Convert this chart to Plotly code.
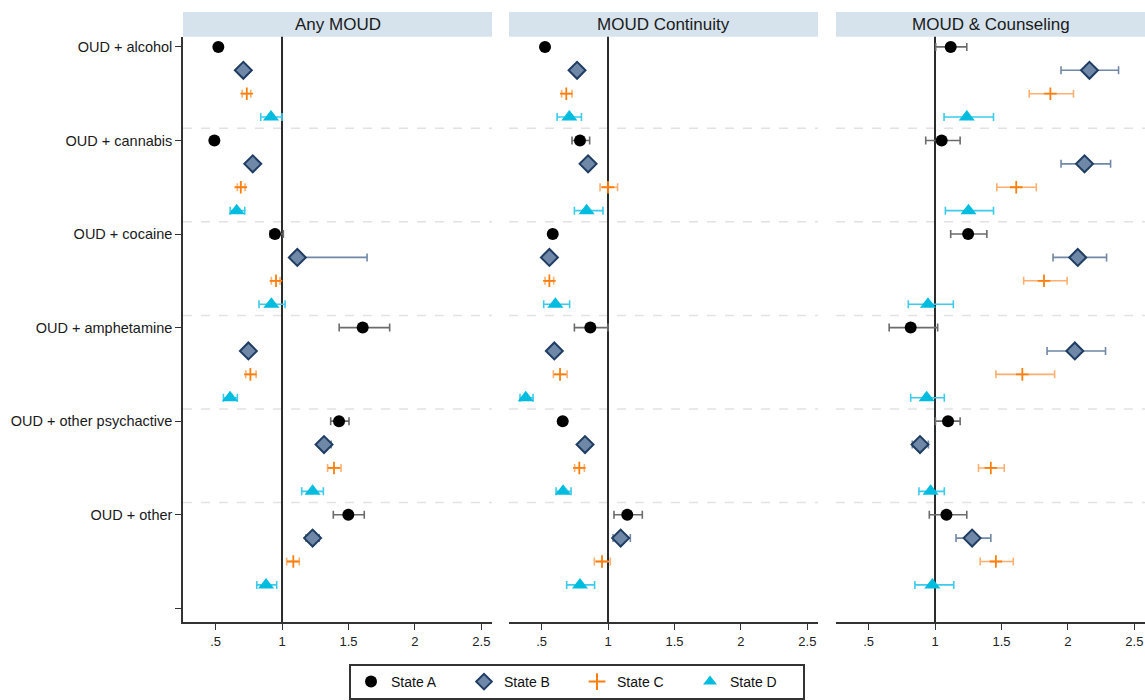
import plotly.graph_objects as go

categories = ["OUD + alcohol", "OUD + cannabis", "OUD + cocaine",
              "OUD + amphetamine", "OUD + other psychactive", "OUD + other"]
states = ["State A", "State B", "State C", "State D"]
panels = ["Any MOUD", "MOUD Continuity", "MOUD & Counseling"]

# ---- Any MOUD (estimate, lower CI, upper CI), one value per category ----
any_A_est = [0.521, 0.491, 0.947, 1.607, 1.429, 1.499]
any_A_lo  = [0.505, 0.475, 0.910, 1.430, 1.366, 1.386]
any_A_hi  = [0.537, 0.507, 1.010, 1.810, 1.504, 1.619]
any_B_est = [0.709, 0.780, 1.115, 0.747, 1.316, 1.230]
any_B_lo  = [0.690, 0.762, 1.080, 0.730, 1.280, 1.180]
any_B_hi  = [0.728, 0.798, 1.640, 0.764, 1.370, 1.280]
any_C_est = [0.735, 0.690, 0.955, 0.762, 1.391, 1.085]
any_C_lo  = [0.700, 0.664, 0.920, 0.727, 1.343, 1.035]
any_C_hi  = [0.765, 0.722, 0.985, 0.805, 1.444, 1.130]
any_D_est = [0.917, 0.659, 0.920, 0.609, 1.230, 0.880]
any_D_lo  = [0.840, 0.610, 0.827, 0.559, 1.148, 0.810]
any_D_hi  = [1.000, 0.720, 1.023, 0.664, 1.311, 0.960]

# ---- MOUD Continuity ----
con_A_est = [0.526, 0.789, 0.584, 0.867, 0.659, 1.145]
con_A_lo  = [0.510, 0.729, 0.565, 0.747, 0.635, 1.045]
con_A_hi  = [0.542, 0.862, 0.603, 1.000, 0.683, 1.258]
con_B_est = [0.767, 0.850, 0.559, 0.596, 0.827, 1.095]
con_B_lo  = [0.748, 0.822, 0.542, 0.578, 0.800, 1.038]
con_B_hi  = [0.788, 0.880, 0.576, 0.614, 0.857, 1.168]
con_C_est = [0.686, 1.000, 0.559, 0.639, 0.784, 0.955]
con_C_lo  = [0.651, 0.940, 0.526, 0.589, 0.749, 0.897]
con_C_hi  = [0.729, 1.072, 0.591, 0.692, 0.822, 1.017]
con_D_est = [0.709, 0.839, 0.604, 0.381, 0.662, 0.789]
con_D_lo  = [0.617, 0.747, 0.516, 0.338, 0.609, 0.689]
con_D_hi  = [0.800, 0.962, 0.711, 0.436, 0.722, 0.899]

# ---- MOUD & Counseling ----
cou_A_est = [1.118, 1.050, 1.249, 0.817, 1.098, 1.086]
cou_A_lo  = [1.005, 0.930, 1.118, 0.655, 1.003, 0.957]
cou_A_hi  = [1.239, 1.189, 1.390, 1.020, 1.189, 1.239]
cou_B_est = [2.162, 2.125, 2.074, 2.052, 0.887, 1.279]
cou_B_lo  = [1.948, 1.948, 1.888, 1.843, 0.829, 1.158]
cou_B_hi  = [2.381, 2.321, 2.291, 2.283, 0.950, 1.420]
cou_C_est = [1.868, 1.611, 1.820, 1.657, 1.420, 1.458]
cou_C_lo  = [1.709, 1.465, 1.667, 1.458, 1.327, 1.340]
cou_C_hi  = [2.042, 1.762, 1.994, 1.900, 1.521, 1.589]
cou_D_est = [1.239, 1.252, 0.947, 0.937, 0.967, 0.980]
cou_D_lo  = [1.068, 1.078, 0.799, 0.817, 0.879, 0.849]
cou_D_hi  = [1.440, 1.440, 1.138, 1.070, 1.070, 1.141]

x_tickvals = [0.5, 1, 1.5, 2, 2.5]
x_ticktext = [".5", "1", "1.5", "2", "2.5"]

panel_data = [
    [(any_A_est, any_A_lo, any_A_hi), (any_B_est, any_B_lo, any_B_hi),
     (any_C_est, any_C_lo, any_C_hi), (any_D_est, any_D_lo, any_D_hi)],
    [(con_A_est, con_A_lo, con_A_hi), (con_B_est, con_B_lo, con_B_hi),
     (con_C_est, con_C_lo, con_C_hi), (con_D_est, con_D_lo, con_D_hi)],
    [(cou_A_est, cou_A_lo, cou_A_hi), (cou_B_est, cou_B_lo, cou_B_hi),
     (cou_C_est, cou_C_lo, cou_C_hi), (cou_D_est, cou_D_lo, cou_D_hi)],
]

styles = [
    dict(symbol="circle", size=12, color="black", line=dict(width=0, color="black")),
    dict(symbol="diamond", size=13, color="#6f88a8", line=dict(width=2, color="#1f3d63")),
    dict(symbol="cross-thin", size=9, color="#ff7f0e", line=dict(width=1.8, color="#ff7f0e")),
    dict(symbol="triangle-up", size=14, color="#00bcdf", line=dict(width=0, color="#00bcdf")),
]
err_colors = ["#6b6b6b", "#7088a6", "#ffb070", "#3ccbec"]

W, H = 1145, 700
x_domains = [(183 / W, 492 / W), (509 / W, 818 / W), (836 / W, 1.0)]
y_domain = (1 - 625 / H, 1 - 37 / H)
x_range = [0.255, 2.58]
y_range = [24.6, -0.43]

fig = go.Figure()
for p in range(3):
    ax = "" if p == 0 else str(p + 1)
    for s in range(4):
        est, lo, hi = panel_data[p][s]
        ys = [c * 4 + s for c in range(len(categories))]
        st = styles[s]
        fig.add_trace(go.Scatter(
            x=est, y=ys, mode="markers", name=states[s],
            showlegend=(p == 0), legendgroup=states[s],
            xaxis="x" + ax, yaxis="y" + ax,
            marker=dict(symbol=st["symbol"], size=st["size"], color=st["color"],
                        line=st["line"]),
            error_x=dict(type="data", symmetric=False,
                         array=[h - e for h, e in zip(hi, est)],
                         arrayminus=[e - l for e, l in zip(est, lo)],
                         color=err_colors[s], thickness=1.6, width=4),
        ))

shapes = []
annotations = []
for p in range(3):
    ax = "" if p == 0 else str(p + 1)
    xd = x_domains[p]
    # header strip
    shapes.append(dict(type="rect", xref="paper", yref="paper",
                       x0=xd[0], x1=xd[1], y0=1 - 37 / H, y1=1 - 12 / H,
                       fillcolor="#d6e3ec", line=dict(width=0), layer="below"))
    annotations.append(dict(text=panels[p], xref="paper", yref="paper",
                            x=(xd[0] + xd[1]) / 2, y=1 - 24.5 / H,
                            showarrow=False, xanchor="center", yanchor="middle",
                            font=dict(family="Liberation Sans, Arial, sans-serif", size=17,
                                      color="#1a1a1a")))
    # dashed separators
    for k in range(1, len(categories)):
        yv = k * 4 - 0.52
        shapes.append(dict(type="line", xref=("x" + ax) + " domain", yref="y" + ax,
                           x0=0, x1=1, y0=yv, y1=yv,
                           line=dict(color="#e2e2e2", width=1.5, dash="dash"),
                           layer="below"))
    # reference line at 1
    shapes.append(dict(type="line", xref="x" + ax, yref="y" + ax + " domain",
                       x0=1, x1=1, y0=0, y1=1,
                       line=dict(color="#2b2b2b", width=2), layer="below"))

layout = dict(
    width=W, height=H,
    margin=dict(l=0, r=0, t=0, b=0),
    paper_bgcolor="white", plot_bgcolor="white",
    shapes=shapes, annotations=annotations,
    legend=dict(orientation="h", x=349 / W, xanchor="left",
                y=1 - 667 / H, yanchor="top",
                bordercolor="#333333", borderwidth=2,
                font=dict(family="Liberation Sans, Arial, sans-serif",
                          size=14, color="#111111"),
                entrywidth=68, entrywidthmode="pixels",
                itemsizing="constant", itemwidth=30, traceorder="normal"),
)
for p in range(3):
    ax = "" if p == 0 else str(p + 1)
    layout["xaxis" + ax] = dict(
        domain=list(x_domains[p]), range=x_range, anchor="y" + ax,
        tickvals=x_tickvals, ticktext=x_ticktext,
        showgrid=False, zeroline=False, showline=True,
        linecolor="#333333", linewidth=1.5,
        ticks="outside", ticklen=6, tickcolor="#333333", tickwidth=1.2,
        tickfont=dict(family="Liberation Sans Narrow, Arial Narrow, Liberation Sans, sans-serif",
                      size=13, color="#222222"),
    )
    ydict = dict(
        domain=list(y_domain), range=y_range, anchor="x" + ax,
        showgrid=False, zeroline=False,
    )
    if p == 0:
        ydict.update(
            tickvals=[c * 4 for c in range(len(categories) + 1)],
            ticktext=categories + [""],
            showline=True, linecolor="#333333", linewidth=1.5,
            ticks="outside", ticklen=6, tickcolor="#333333", tickwidth=1.2,
            tickfont=dict(family="Liberation Sans, Arial, sans-serif", size=14.5,
                          color="#1a1a1a"),
        )
    else:
        ydict.update(showticklabels=False, showline=False, ticks="")
    layout["yaxis" + ax] = ydict

fig.update_layout(**layout)
fig.write_html("out.html", config={"displayModeBar": False},
               post_script="document.body.style.margin='0';document.body.style.overflow='hidden';")
